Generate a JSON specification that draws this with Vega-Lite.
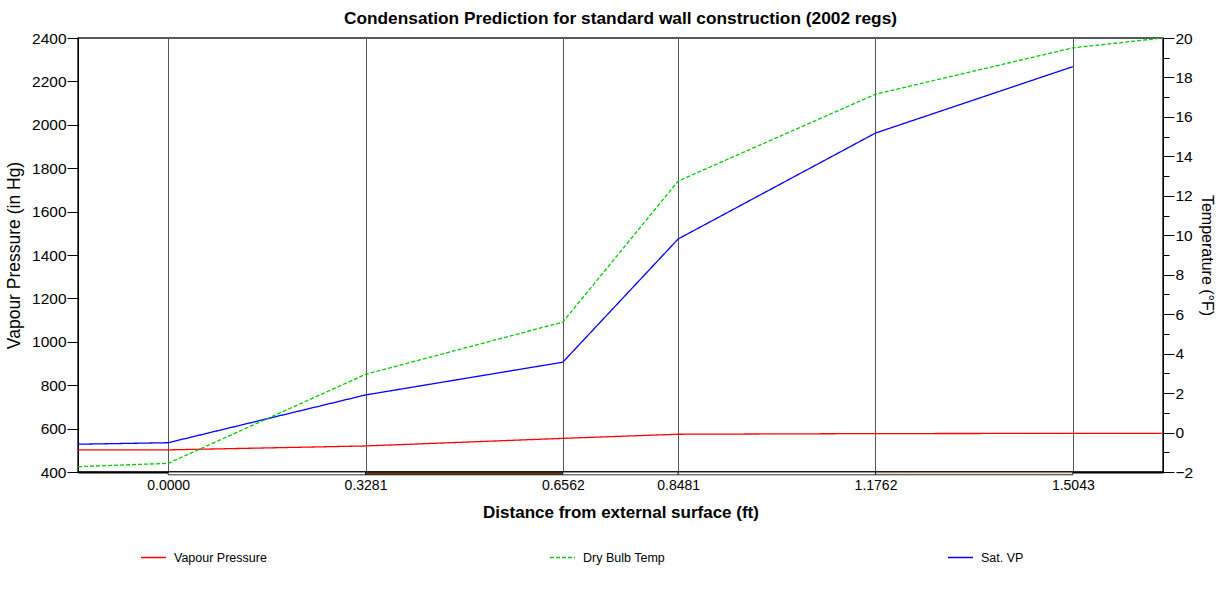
{
  "$schema": "https://vega.github.io/schema/vega-lite/v6.json",
  "width": 1085,
  "height": 434,
  "autosize": "none",
  "padding": {"left": 78, "top": 38, "right": 62, "bottom": 122},
  "background": "white",
  "config": {
    "font": "Liberation Sans",
    "view": {"stroke": "#222222", "strokeWidth": 1.5},
    "axis": {"labelFont": "Liberation Sans", "titleFont": "Liberation Sans", "labelColor": "black", "titleColor": "black", "domainColor": "black", "tickColor": "black"},
    "legend": {"labelFont": "Liberation Sans", "labelColor": "black"}
  },
  "title": {"text": "Condensation Prediction for standard wall construction (2002 regs)", "fontSize": 17.3, "fontWeight": "bold", "font": "Liberation Sans", "anchor": "middle", "offset": 4, "color": "black"},
  "datasets": {
    "series": [
      {"series": "Vapour Pressure", "d": -0.15, "v": 502},
      {"series": "Vapour Pressure", "d": 0.0, "v": 502},
      {"series": "Vapour Pressure", "d": 0.3281, "v": 520},
      {"series": "Vapour Pressure", "d": 0.6562, "v": 555},
      {"series": "Vapour Pressure", "d": 0.8481, "v": 574},
      {"series": "Vapour Pressure", "d": 1.1762, "v": 577},
      {"series": "Vapour Pressure", "d": 1.5043, "v": 578},
      {"series": "Vapour Pressure", "d": 1.6543, "v": 578},
      {"series": "Sat. VP", "d": -0.15, "v": 528},
      {"series": "Sat. VP", "d": 0.0, "v": 535},
      {"series": "Sat. VP", "d": 0.3281, "v": 755},
      {"series": "Sat. VP", "d": 0.6562, "v": 906},
      {"series": "Sat. VP", "d": 0.8481, "v": 1474},
      {"series": "Sat. VP", "d": 1.1762, "v": 1962},
      {"series": "Sat. VP", "d": 1.5043, "v": 2268},
      {"series": "Dry Bulb Temp", "d": -0.15, "v": -1.73},
      {"series": "Dry Bulb Temp", "d": 0.0, "v": -1.56},
      {"series": "Dry Bulb Temp", "d": 0.3281, "v": 2.95},
      {"series": "Dry Bulb Temp", "d": 0.6562, "v": 5.6},
      {"series": "Dry Bulb Temp", "d": 0.8481, "v": 12.75},
      {"series": "Dry Bulb Temp", "d": 1.1762, "v": 17.15},
      {"series": "Dry Bulb Temp", "d": 1.5043, "v": 19.5},
      {"series": "Dry Bulb Temp", "d": 1.6543, "v": 20}
    ],
    "layers": [
      {"layer": "Layer 1", "d0": 0.0, "d1": 0.3281},
      {"layer": "Layer 2", "d0": 0.3281, "d1": 0.6562},
      {"layer": "Layer 3", "d0": 0.6562, "d1": 0.8481},
      {"layer": "Layer 4", "d0": 0.8481, "d1": 1.1762},
      {"layer": "Layer 5", "d0": 1.1762, "d1": 1.5043}
    ]
  },
  "layer": [
    {
      "layer": [
        {
          "data": {"name": "layers"},
          "mark": {"type": "rect", "stroke": "black", "strokeWidth": 0.8, "clip": false},
          "encoding": {
            "x": {"field": "d0", "type": "quantitative", "scale": {"domain": [-0.15, 1.6543], "nice": false, "zero": false}},
            "x2": {"field": "d1"},
            "y": {"datum": 400, "type": "quantitative"},
            "y2": {"datum": 387},
            "fill": {"field": "layer", "type": "nominal", "scale": {"domain": ["Layer 1", "Layer 2", "Layer 3", "Layer 4", "Layer 5"], "range": ["#ffffff", "#6b3a0a", "#ffffff", "#ffffff", "#f3dcc0"]}, "legend": null}
          }
        },
        {
          "data": {"name": "series"},
          "transform": [{"filter": "datum.series !== 'Dry Bulb Temp'"}],
          "mark": {"type": "line", "strokeWidth": 1.3, "clip": true},
          "encoding": {
            "x": {
              "field": "d", "type": "quantitative",
              "scale": {"domain": [-0.15, 1.6543], "nice": false, "zero": false},
              "axis": {
                "values": [0, 0.3281, 0.6562, 0.8481, 1.1762, 1.5043],
                "format": ".4f",
                "ticks": false, "tickSize": 0,
                "grid": true, "gridColor": "#555555", "gridWidth": 1,
                "domainWidth": 2,
                "labelFontSize": 14, "labelPadding": 6,
                "title": "Distance from external surface (ft)",
                "titleFontSize": 17, "titleFontWeight": "bold", "titlePadding": 12
              }
            },
            "y": {
              "field": "v", "type": "quantitative",
              "scale": {"domain": [400, 2400], "nice": false, "zero": false},
              "axis": {
                "orient": "left",
                "values": [400, 500, 600, 700, 800, 900, 1000, 1100, 1200, 1300, 1400, 1500, 1600, 1700, 1800, 1900, 2000, 2100, 2200, 2300, 2400],
                "labelExpr": "datum.value % 200 === 0 ? datum.label : ''",
                "format": "d",
                "tickSize": {"condition": {"test": "datum.value % 200 !== 0", "value": 6}, "value": 11},
                "grid": false,
                "labelFontSize": 15.5, "labelPadding": 1,
                "title": "Vapour Pressure (in Hg)",
                "titleFontSize": 17.5, "titleFontWeight": "normal", "titlePadding": 8
              }
            },
            "color": {
              "field": "series", "type": "nominal",
              "scale": {"domain": ["Vapour Pressure", "Dry Bulb Temp", "Sat. VP"], "range": ["#ff0000", "#00cc00", "#0000ff"]},
              "legend": {"title": null, "orient": "none", "legendX": 62, "legendY": 506, "direction": "horizontal", "columns": 3, "columnPadding": 280, "gridAlign": "each", "symbolType": "stroke", "symbolSize": 625, "symbolStrokeWidth": 1.3, "labelFontSize": 12.5, "labelOffset": 7, "padding": 0}
            },
            "strokeDash": {
              "field": "series", "type": "nominal",
              "scale": {"domain": ["Vapour Pressure", "Dry Bulb Temp", "Sat. VP"], "range": [[1, 0], [4, 2], [1, 0]]},
              "legend": {"title": null, "orient": "none", "legendX": 62, "legendY": 506, "direction": "horizontal", "columns": 3, "columnPadding": 280, "gridAlign": "each", "symbolType": "stroke", "symbolSize": 625, "symbolStrokeWidth": 1.3, "labelFontSize": 12.5, "labelOffset": 7, "padding": 0}
            }
          }
        }
      ]
    },
    {
      "data": {"name": "series"},
      "transform": [{"filter": "datum.series === 'Dry Bulb Temp'"}],
      "mark": {"type": "line", "strokeWidth": 1.3, "clip": true},
      "encoding": {
        "x": {"field": "d", "type": "quantitative", "scale": {"domain": [-0.15, 1.6543], "nice": false, "zero": false}},
        "y": {
          "field": "v", "type": "quantitative",
          "scale": {"domain": [-2, 20], "nice": false, "zero": false},
          "axis": {
            "orient": "right",
            "values": [-2, -1, 0, 1, 2, 3, 4, 5, 6, 7, 8, 9, 10, 11, 12, 13, 14, 15, 16, 17, 18, 19, 20],
            "labelExpr": "datum.value % 2 === 0 ? datum.label : ''",
            "format": "d",
            "tickSize": {"condition": {"test": "datum.value % 2 !== 0", "value": 6}, "value": 11},
            "grid": false,
            "labelFontSize": 15.5, "labelPadding": 1,
            "title": "Temperature (°F)",
            "titleAngle": 90,
            "titleFontSize": 16, "titleFontWeight": "normal", "titlePadding": 6
          }
        },
        "color": {"field": "series", "type": "nominal"},
        "strokeDash": {"field": "series", "type": "nominal"}
      }
    }
  ],
  "resolve": {"scale": {"y": "independent"}}
}
